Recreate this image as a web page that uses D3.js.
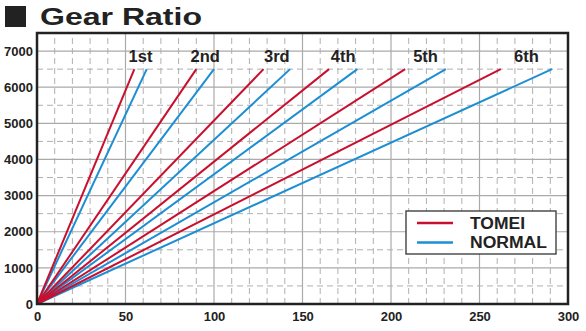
<!DOCTYPE html>
<html><head><meta charset="utf-8">
<script src="https://cdn.jsdelivr.net/npm/d3@7"></script>
<style>body{margin:0;background:#fff}svg{display:block}</style>
</head><body><svg id="c" width="586" height="331"></svg>
<script>
const gears = ["1st","2nd","3rd","4th","5th","6th"];
const tomeiSpeed = [55, 90, 128, 165, 208, 262];
const normalSpeed = [62, 100, 143, 181, 231, 291];
const maxRpm = 6500;
const xTicks = [0,50,100,150,200,250,300];
const yTicks = [0,1000,2000,3000,4000,5000,6000,7000];
const seriesNames = ["TOMEI","NORMAL"];
const colors = {TOMEI:"#c8102e", NORMAL:"#1c8ed4"};

const svg = d3.select("#c");
const x = d3.scaleLinear().domain([0,300]).range([37,568]);
const y = d3.scaleLinear().domain([0,7500]).range([304,33]);
const font = "'Liberation Sans', Arial, sans-serif";

// title
svg.append("rect").attr("x",5).attr("y",6).attr("width",21).attr("height",21).attr("fill","#222");
svg.append("text").attr("x",40).attr("y",25).attr("font-family",font).attr("font-weight","bold")
  .attr("font-size",24).attr("fill","#222").attr("textLength",162).attr("lengthAdjust","spacingAndGlyphs").text("Gear Ratio");

// grid
const g = svg.append("g");
const minorX = d3.range(10,300,10).filter(v=>v%50!==0);
const majorX = d3.range(50,300,50);
const minorY = d3.range(500,7500,1000);
const majorY = d3.range(1000,7500,1000);
g.selectAll(".mx").data(minorX).join("line").attr("x1",d=>x(d)).attr("x2",d=>x(d)).attr("y1",y(0)).attr("y2",y(7500))
  .attr("stroke","#b0b0b0").attr("stroke-width",1).attr("stroke-dasharray","6,4");
g.selectAll(".my").data(minorY).join("line").attr("x1",x(0)).attr("x2",x(300)).attr("y1",d=>y(d)).attr("y2",d=>y(d))
  .attr("stroke","#b0b0b0").attr("stroke-width",1).attr("stroke-dasharray","6,4");
g.selectAll(".Mx").data(majorX).join("line").attr("x1",d=>x(d)).attr("x2",d=>x(d)).attr("y1",y(0)).attr("y2",y(7500))
  .attr("stroke","#aaaaaa").attr("stroke-width",1.2);
g.selectAll(".My").data(majorY).join("line").attr("x1",x(0)).attr("x2",x(300)).attr("y1",d=>y(d)).attr("y2",d=>y(d))
  .attr("stroke","#aaaaaa").attr("stroke-width",1.2);

// axes labels
const xAxis = d3.axisBottom(x).tickValues(xTicks).tickSize(0).tickPadding(8).tickFormat(d3.format("d"));
const ax = svg.append("g").attr("transform",`translate(0,${y(0)})`).call(xAxis);
ax.select(".domain").remove();
ax.selectAll("text").attr("font-family",font).attr("font-weight","bold").attr("font-size",13).attr("fill","#222");
const yAxis = d3.axisLeft(y).tickValues(yTicks).tickSize(0).tickPadding(4).tickFormat(d3.format("d"));
const ay = svg.append("g").attr("transform",`translate(${x(0)},0)`).call(yAxis);
ay.select(".domain").remove();
ay.selectAll("text").attr("font-family",font).attr("font-weight","bold").attr("font-size",13).attr("fill","#222");

// lines
const lines = svg.append("g");
[["NORMAL",normalSpeed],["TOMEI",tomeiSpeed]].forEach(([name,arr])=>{
  lines.selectAll(null).data(arr).join("line")
    .attr("x1",x(0)).attr("y1",y(0)).attr("x2",d=>x(d)).attr("y2",y(maxRpm))
    .attr("stroke",colors[name]).attr("stroke-width",2).attr("stroke-linecap","butt");
});

// gear labels
svg.selectAll(".gl").data(gears).join("text")
  .attr("x",(d,i)=>x((tomeiSpeed[i]+normalSpeed[i])/2)).attr("y",y(6700))
  .attr("text-anchor","middle").attr("font-family",font).attr("font-weight","bold").attr("font-size",16.5).attr("fill","#222")
  .text(d=>d);

// frame
svg.append("rect").attr("x",x(0)).attr("y",y(7500)).attr("width",x(300)-x(0)).attr("height",y(0)-y(7500))
  .attr("fill","none").attr("stroke","#222").attr("stroke-width",2.5);

// legend
const lg = svg.append("g");
lg.append("rect").attr("x",406).attr("y",211).attr("width",150).attr("height",43).attr("fill","#fff").attr("stroke","#333").attr("stroke-width",1.3);
seriesNames.forEach((n,i)=>{
  lg.append("line").attr("x1",417).attr("x2",453).attr("y1",223+i*19.5).attr("y2",223+i*19.5).attr("stroke",colors[n]).attr("stroke-width",2.5);
  lg.append("text").attr("x",470).attr("y",228.5+i*19.5).attr("font-family",font).attr("font-weight","bold").attr("font-size",16).attr("fill","#222")
    .attr("textLength", n==="TOMEI"?55:77).attr("lengthAdjust","spacingAndGlyphs").text(n);
});
</script></body></html>
